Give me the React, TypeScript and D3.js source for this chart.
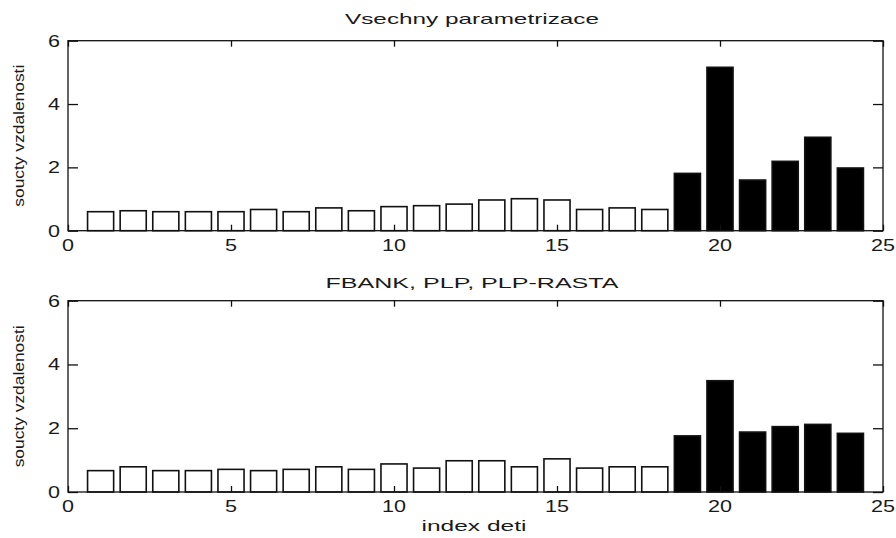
import { useEffect, useRef } from 'react';
import * as d3 from 'd3';

// index of each child (1..24)
const indices = d3.range(1, 25);
// children 19..24 are drawn filled
const filledFrom = 19;

const allParams = [
  0.6, 0.63, 0.6, 0.6, 0.6, 0.67, 0.6, 0.72, 0.63, 0.76, 0.79, 0.84,
  0.97, 1.01, 0.97, 0.67, 0.72, 0.67, 1.81, 5.16, 1.6, 2.19, 2.95, 1.98,
];
const fbankPlp = [
  0.67, 0.79, 0.67, 0.67, 0.71, 0.67, 0.71, 0.79, 0.71, 0.88, 0.75, 0.98,
  0.98, 0.79, 1.04, 0.75, 0.79, 0.79, 1.76, 3.49, 1.88, 2.05, 2.12, 1.84,
];

const xTicks = [0, 5, 10, 15, 20, 25];
const yTicks = [0, 2, 4, 6];
const titles = ['Vsechny parametrizace', 'FBANK, PLP, PLP-RASTA'];
const titleWidths = [254, 293];
const yLabel = 'soucty vzdalenosti';
const xLabel = 'index deti';

const W = 896;
const H = 538;
const FONT = '"Liberation Sans", Arial, sans-serif';

const App = () => {
  const svgRef = useRef<SVGSVGElement | null>(null);

  useEffect(() => {
    if (!svgRef.current) return;
    const svg = d3.select(svgRef.current);
    svg.selectAll('*').remove();

    const x = d3.scaleLinear().domain([0, 25]).range([68, 883]);
    const barW = x(0.8) - x(0);

    const panels = [
      { data: allParams, top: 40.7, bottom: 230.7, title: titles[0], tw: titleWidths[0], ty: 24.3 },
      { data: fbankPlp, top: 300.7, bottom: 492, title: titles[1], tw: titleWidths[1], ty: 288 },
    ];

    panels.forEach((p, pi) => {
      const y = d3.scaleLinear().domain([0, 6]).range([p.bottom, p.top]);
      const g = svg.append('g');

      // bars
      g.selectAll('rect.bar')
        .data(p.data)
        .enter()
        .append('rect')
        .attr('class', 'bar')
        .attr('x', (d, i) => x(indices[i]) - barW / 2)
        .attr('y', d => y(d))
        .attr('width', barW)
        .attr('height', d => y(0) - y(d))
        .attr('fill', (d, i) => (indices[i] >= filledFrom ? '#000' : '#fff'))
        .attr('stroke', '#111')
        .attr('stroke-width', 1.6);

      // box
      g.append('rect')
        .attr('x', x(0))
        .attr('y', p.top)
        .attr('width', x(25) - x(0))
        .attr('height', p.bottom - p.top)
        .attr('fill', 'none')
        .attr('stroke', '#111')
        .attr('stroke-width', 1.3);

      // inward ticks on all sides
      const tickStyle = (sel: any) => {
        sel.select('.domain').remove();
        sel.selectAll('line').attr('stroke', '#111').attr('stroke-width', 1.3);
      };
      g.append('g')
        .attr('transform', `translate(0,${p.bottom})`)
        .call(d3.axisBottom(x).tickValues(xTicks).tickSize(-6).tickFormat(() => ''))
        .call(tickStyle);
      g.append('g')
        .attr('transform', `translate(0,${p.top})`)
        .call(d3.axisTop(x).tickValues(xTicks).tickSize(-6).tickFormat(() => ''))
        .call(tickStyle);
      g.append('g')
        .attr('transform', `translate(${x(0)},0)`)
        .call(d3.axisLeft(y).tickValues(yTicks).tickSize(-10).tickFormat(() => ''))
        .call(tickStyle);
      g.append('g')
        .attr('transform', `translate(${x(25)},0)`)
        .call(d3.axisRight(y).tickValues(yTicks).tickSize(-10).tickFormat(() => ''))
        .call(tickStyle);

      // tick labels
      g.selectAll('text.xt')
        .data(xTicks)
        .enter()
        .append('text')
        .attr('x', d => x(d))
        .attr('y', p.bottom + 20)
        .attr('text-anchor', 'middle')
        .attr('font-family', FONT)
        .attr('font-size', 16)
        .attr('textLength', d => String(d).length * 12)
        .attr('lengthAdjust', 'spacingAndGlyphs')
        .attr('fill', '#1a1a1a')
        .text(d => d);
      g.selectAll('text.yt')
        .data(yTicks)
        .enter()
        .append('text')
        .attr('x', 60)
        .attr('y', d => y(d) + 6)
        .attr('text-anchor', 'end')
        .attr('font-family', FONT)
        .attr('font-size', 16)
        .attr('textLength', 12)
        .attr('lengthAdjust', 'spacingAndGlyphs')
        .attr('fill', '#1a1a1a')
        .text(d => d);

      // title
      g.append('text')
        .attr('x', 472)
        .attr('y', p.ty)
        .attr('text-anchor', 'middle')
        .attr('font-family', FONT)
        .attr('font-size', 15)
        .attr('textLength', p.tw)
        .attr('lengthAdjust', 'spacingAndGlyphs')
        .attr('fill', '#1a1a1a')
        .text(p.title);

      // y label
      g.append('text')
        .attr('transform', `translate(24,${(p.top + p.bottom) / 2}) rotate(-90)`)
        .attr('text-anchor', 'middle')
        .attr('font-family', FONT)
        .attr('font-size', 14)
        .attr('textLength', 142)
        .attr('lengthAdjust', 'spacingAndGlyphs')
        .attr('fill', '#1a1a1a')
        .text(yLabel);

      if (pi === 1) {
        g.append('text')
          .attr('x', 474)
          .attr('y', p.bottom + 39)
          .attr('text-anchor', 'middle')
          .attr('font-family', FONT)
          .attr('font-size', 15)
          .attr('textLength', 105)
          .attr('lengthAdjust', 'spacingAndGlyphs')
          .attr('fill', '#1a1a1a')
          .text(xLabel);
      }
    });
  }, []);

  return (
    <svg
      ref={svgRef}
      width={W}
      height={H}
      style={{ position: 'absolute', left: 0, top: 0, background: '#fff' }}
    />
  );
};

export default App;
